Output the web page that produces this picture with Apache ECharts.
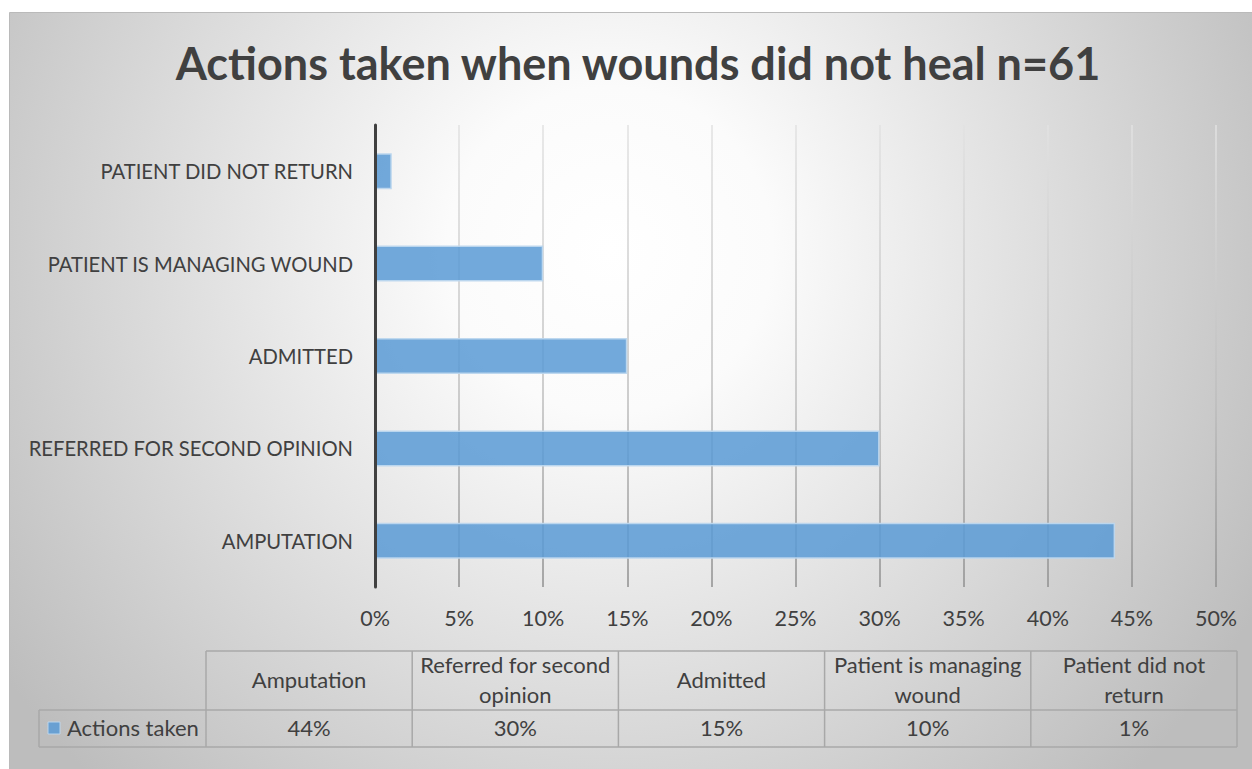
<!DOCTYPE html>
<html>
<head>
<meta charset="utf-8">
<script src="https://cdn.jsdelivr.net/npm/echarts@6/dist/echarts.min.js"></script>
<style>
  html, body { margin: 0; padding: 0; background: #ffffff; }
  #chart { width: 1252px; height: 769px; }
</style>
</head>
<body>
<div id="chart"></div>
<script>
// Outcome categories (bottom to top on the bar axis, left to right in the table)
const categories = ['Amputation', 'Referred for second opinion', 'Admitted', 'Patient is managing wound', 'Patient did not return'];
// Share of patients for each outcome, in percent
const values = [44, 30, 15, 10, 1];
const seriesName = 'Actions taken';
// Header text of the data table, with its line breaks
const tableHeaders = ['Amputation', 'Referred for second\nopinion', 'Admitted', 'Patient is managing\nwound', 'Patient did not\nreturn'];
// Percentage axis ticks
const xTicks = { min: 0, max: 50, step: 5 };

const FONT = 'Lato, "Open Sans", sans-serif';
const TEXT = '#404040';
const BAR_FILL = 'rgba(91,155,213,0.86)';
const BAR_EDGE = 'rgba(189,215,238,0.95)';
const GRID_LINE = '#a8a8a8';

// Data table geometry
const tbl = { left: 206, colW: 206.2, top: 651, headH: 59, rowH: 37, legendLeft: 39 };

function tableGraphics() {
  const els = [];
  const n = categories.length;
  const right = tbl.left + tbl.colW * n;
  const mid = tbl.top + tbl.headH;
  const bottom = mid + tbl.rowH;
  const line = (x1, y1, x2, y2) => ({
    type: 'line', silent: true,
    shape: { x1, y1, x2, y2 },
    style: { stroke: GRID_LINE, lineWidth: 1.5 }
  });
  // outer and row borders
  els.push(line(tbl.left, tbl.top, right, tbl.top));
  els.push(line(tbl.legendLeft, mid, right, mid));
  els.push(line(tbl.legendLeft, bottom, right, bottom));
  els.push(line(tbl.legendLeft, mid, tbl.legendLeft, bottom));
  for (let i = 0; i <= n; i++) {
    const x = tbl.left + tbl.colW * i;
    els.push(line(x, tbl.top, x, bottom));
  }
  // headers and values
  for (let i = 0; i < n; i++) {
    const cx = tbl.left + tbl.colW * (i + 0.5);
    els.push({
      type: 'text', silent: true,
      style: {
        text: tableHeaders[i], x: cx, y: tbl.top + tbl.headH / 2 - 1.5,
        align: 'center', verticalAlign: 'middle',
        font: '22px ' + FONT, lineHeight: 30, fill: TEXT
      }
    });
    els.push({
      type: 'text', silent: true,
      style: {
        text: values[i] + '%', x: cx, y: mid + tbl.rowH / 2 - 1.5,
        align: 'center', verticalAlign: 'middle',
        font: '22px ' + FONT, fill: TEXT
      }
    });
  }
  // legend key in the row header
  els.push({
    type: 'rect', silent: true,
    shape: { x: 48, y: 722, width: 12, height: 12 },
    style: { fill: BAR_FILL, stroke: BAR_EDGE, lineWidth: 1 }
  });
  els.push({
    type: 'text', silent: true,
    style: {
      text: seriesName, x: 67, y: mid + tbl.rowH / 2 - 1.5,
      align: 'left', verticalAlign: 'middle',
      font: '22px ' + FONT, fill: TEXT
    }
  });
  return els;
}

const chart = echarts.init(document.getElementById('chart'), null, { renderer: 'svg' });

chart.setOption({
  animation: false,
  backgroundColor: '#ffffff',
  title: {
    text: 'Actions taken when wounds did not heal n=61',
    left: 633, top: 35, textAlign: 'center',
    textStyle: { fontFamily: FONT, fontWeight: 'bold', fontSize: 45, color: TEXT }
  },
  grid: { left: 375, right: 36, top: 125, bottom: 182, containLabel: false },
  xAxis: {
    type: 'value',
    min: xTicks.min, max: xTicks.max, interval: xTicks.step,
    axisLine: { show: false },
    axisTick: { show: false },
    axisLabel: {
      formatter: '{value}%', margin: 20,
      fontFamily: FONT, fontSize: 21.5, color: TEXT
    },
    splitLine: {
      lineStyle: {
        width: 1.5,
        color: {
          type: 'linear', x: 0, y: 125, x2: 0, y2: 587, global: true,
          colorStops: [
            { offset: 0, color: '#e2e2e2' },
            { offset: 0.6, color: '#bdbdbd' },
            { offset: 1, color: '#8f8f8f' }
          ]
        }
      }
    }
  },
  yAxis: {
    type: 'category',
    data: categories,
    z: 5,
    axisLine: { show: true, lineStyle: { color: TEXT, width: 3 } },
    axisTick: { show: false },
    axisLabel: {
      formatter: v => v.toUpperCase(), margin: 22,
      fontFamily: FONT, fontSize: 20.2, color: TEXT
    },
    splitLine: { show: false }
  },
  series: [{
    name: seriesName,
    type: 'bar',
    data: values,
    barWidth: 36,
    itemStyle: { color: BAR_FILL, borderColor: BAR_EDGE, borderWidth: 1.5 }
  }],
  graphic: [
    {
      type: 'rect', silent: true, z: -100,
      shape: { x: 9.5, y: 12.5, width: 1250, height: 760 },
      style: {
        stroke: '#bababa', lineWidth: 1,
        fill: {
          type: 'radial', x: 610, y: 250, r: 740, global: true,
          colorStops: [
            { offset: 0, color: '#ffffff' },
            { offset: 0.22, color: '#fbfbfb' },
            { offset: 1, color: '#bdbdbd' }
          ]
        }
      }
    }
  ].concat(tableGraphics())
});
</script>
</body>
</html>
